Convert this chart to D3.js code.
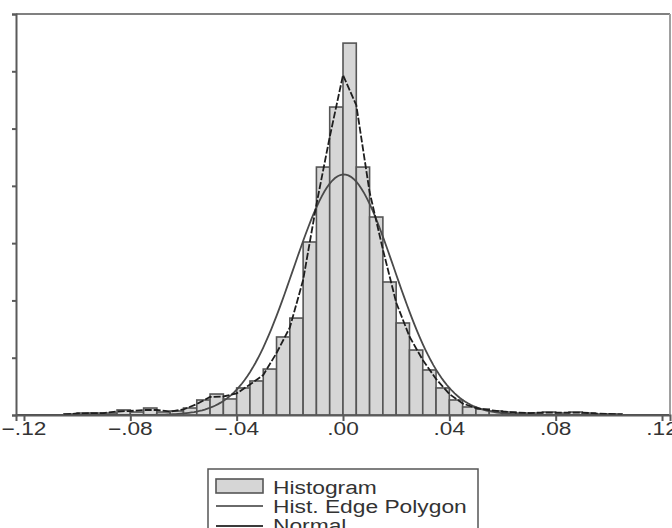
<!DOCTYPE html>
<html>
<head>
<meta charset="utf-8">
<script src="https://cdn.jsdelivr.net/npm/d3@7"></script>
<style>
	body { margin: 0; background: #fff; }
	text { font-family: "Liberation Sans", Arial, sans-serif; fill: #333; }
</style>
</head>
<body>
<script>
// histogram bins: start, width and density of each bin
var binStart = -0.105,
	binWidth = 0.005;

var densities = [
	0.09, 0.17, 0.17, 0.17, 0.44, 0.26, 0.61, 0.26, 0.35,
	0.61, 1.31, 1.83, 1.40, 2.36, 2.97, 4.01, 6.81, 8.46, 15.10, 21.64, 26.88,
	32.46, 21.64, 17.28, 11.61, 8.03, 5.67, 3.93, 2.36, 1.31, 0.70, 0.52, 0.35,
	0.26, 0.17, 0.17, 0.26, 0.17, 0.26, 0.17, 0.09, 0.09
];

// fitted normal
var normMean = 0.0003,
	normSd = 0.019;

var xTicks = [-0.12, -0.08, -0.04, 0, 0.04, 0.08, 0.12],
	yTicks = [0, 5, 10, 15, 20, 25, 30, 35];

var legendLabels = ['Histogram', 'Hist. Edge Polygon', 'Normal'];


var width = 672, height = 528;

var x = d3.scaleLinear().domain([-0.123, 0.123]).range([16, 670]),
	y = d3.scaleLinear().domain([0, 35]).range([415, 14]);

var svg = d3.select('body').append('svg')
	.attr('width', width)
	.attr('height', height);

var bins = densities.map(function(d, i) {
	return { x0: binStart + i * binWidth, x1: binStart + (i + 1) * binWidth, v: d };
});

// bars
svg.selectAll('.bar')
	.data(bins)
	.enter().append('rect')
		.attr('class', 'bar')
		.attr('x', function(d) { return x(d.x0); })
		.attr('y', function(d) { return y(d.v); })
		.attr('width', function(d) { return x(d.x1) - x(d.x0); })
		.attr('height', function(d) { return y(0) - y(d.v); })
		.style('fill', '#d6d6d6')
		.style('stroke', '#555')
		.style('stroke-width', 1.6);

// normal curve
var normPts = d3.range(-0.123, 0.1231, 0.001).map(function(t) {
	var z = (t - normMean) / normSd;
	return [t, Math.exp(-0.5 * z * z) / (normSd * Math.sqrt(2 * Math.PI))];
});

svg.append('path')
	.datum(normPts)
	.attr('d', d3.line()
		.x(function(d) { return x(d[0]); })
		.y(function(d) { return y(d[1]); }))
	.style('fill', 'none')
	.style('stroke', '#4a4a4a')
	.style('stroke-width', 1.8);

// edge polygon: average of neighbouring bins at each bin edge
var edgePts = [];
for (var i = 0; i <= densities.length; i++) {
	var left = i > 0 ? densities[i - 1] : 0,
		right = i < densities.length ? densities[i] : 0;
	edgePts.push([binStart + i * binWidth, (left + right) / 2]);
}

svg.append('path')
	.datum(edgePts)
	.attr('d', d3.line()
		.x(function(d) { return x(d[0]); })
		.y(function(d) { return y(d[1]); }))
	.style('fill', 'none')
	.style('stroke', '#1e1e1e')
	.style('stroke-width', 1.8)
	.style('stroke-dasharray', '7,2');

// frame
svg.append('line')
	.attr('x1', 16).attr('x2', 670)
	.attr('y1', 14).attr('y2', 14)
	.style('stroke', '#808080').style('stroke-width', 2);
svg.append('line')
	.attr('x1', 670).attr('x2', 670)
	.attr('y1', 14).attr('y2', 415)
	.style('stroke', '#a0a0a0').style('stroke-width', 2);

// axes
var xAxis = svg.append('g')
	.attr('transform', 'translate(0,415)')
	.call(d3.axisBottom(x).tickValues(xTicks).tickSize(6).tickFormat(''));

var yAxis = svg.append('g')
	.attr('transform', 'translate(16,0)')
	.call(d3.axisLeft(y).tickValues(yTicks).tickSize(4).tickFormat(''));

[xAxis, yAxis].forEach(function(g) {
	g.select('.domain').style('stroke', '#5a5a5a').style('stroke-width', 2);
	g.selectAll('.tick line').style('stroke', '#5a5a5a').style('stroke-width', 2);
});

var fmt = function(d) { return d3.format('.2f')(d).replace('0.', '.'); };

svg.selectAll('.xlabel')
	.data(xTicks)
	.enter().append('text')
		.attr('class', 'xlabel')
		.attr('transform', function(d) { return 'translate(' + x(d) + ',435) scale(1.26,1)'; })
		.attr('text-anchor', 'middle')
		.style('font-size', '18px')
		.text(fmt);

// legend
var legend = svg.append('g').attr('transform', 'translate(208,469)');

legend.append('rect')
	.attr('x', 0).attr('y', 0)
	.attr('width', 270).attr('height', 80)
	.style('fill', '#fff')
	.style('stroke', '#555')
	.style('stroke-width', 1.5);

legend.append('rect')
	.attr('x', 8).attr('y', 10)
	.attr('width', 47).attr('height', 14)
	.style('fill', '#d6d6d6')
	.style('stroke', '#555')
	.style('stroke-width', 1.6);

legend.append('line')
	.attr('x1', 8).attr('x2', 55)
	.attr('y1', 37).attr('y2', 37)
	.style('stroke', '#6a6a6a').style('stroke-width', 2);

legend.append('line')
	.attr('x1', 8).attr('x2', 55)
	.attr('y1', 57).attr('y2', 57)
	.style('stroke', '#3a3a3a').style('stroke-width', 2);

legend.selectAll('.ltext')
	.data(legendLabels)
	.enter().append('text')
		.attr('class', 'ltext')
		.attr('transform', function(d, i) { return 'translate(65,' + (24.5 + i * 19) + ') scale(1.2,1)'; })
		.style('font-size', '19px')
		.text(function(d) { return d; });
</script>
</body>
</html>
